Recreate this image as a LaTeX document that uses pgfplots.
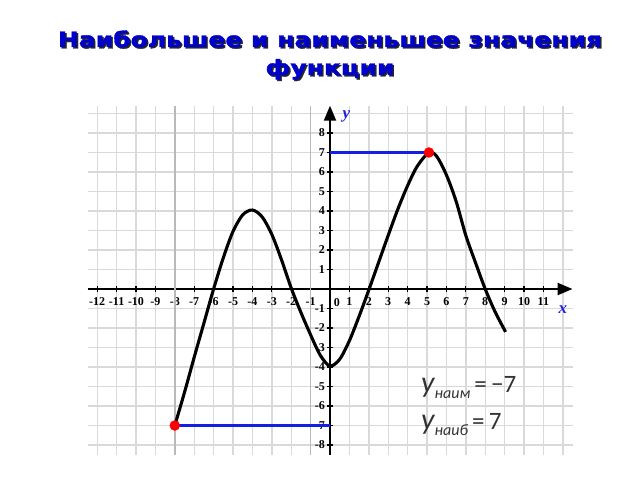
\documentclass[border=0pt]{standalone}
\usepackage{pgfplots}
\pgfplotsset{compat=1.18}
\usepackage{fontspec}
\setmainfont{Liberation Serif}
\newfontfamily\titlefont{DejaVu Sans Bold}[FakeStretch=1.19, FakeBold=1.5]
\newfontfamily\carlito{Carlito}
\usetikzlibrary{arrows.meta}
\definecolor{titleblue}{RGB}{0,0,205}
\definecolor{lineblue}{RGB}{20,30,230}
\definecolor{labblue}{RGB}{30,30,220}
\definecolor{dotred}{RGB}{250,0,0}
\newcommand\shadowtext[1]{\makebox[0pt][l]{\hspace{1.5pt}\raisebox{-1.5pt}{\color{black!85}#1}}\textcolor{titleblue}{#1}}
\begin{document}
\begin{tikzpicture}[x=1pt,y=1pt]
\useasboundingbox (0,0) rectangle (640,480);
% title with shadow
\node[anchor=base, font=\titlefont\fontsize{21}{25}\selectfont, inner sep=0pt] at (330,433) {\shadowtext{Наибольшее и наименьшее значения}};
\node[anchor=base, font=\titlefont\fontsize{21}{25}\selectfont, inner sep=0pt] at (330,405) {\shadowtext{функции}};
\begin{axis}[
  at={(330pt,191pt)}, anchor=origin,
  x=19.4pt, y=19.5pt,
  xmin=-12.5, xmax=12.5, ymin=-8.5, ymax=9.4,
  axis lines=middle,
  axis line style={black, line width=2.2pt, -{Triangle[length=15pt,width=12pt]}},
  clip=false,
  grid=major,
  major grid style={gray!30, line width=1.4pt},
  tick style={black, line width=1.2pt},
  major tick length=6pt,
  tick align=center,
  xtick={-12,-11,...,12},
  xticklabels={-12,-11,-10,-9,-8,-7,-6,-5,-4,-3,-2,-1,{},1,2,3,4,5,6,7,8,9,10,11,{}},
  ytick={-8,-7,...,9},
  yticklabels={-8,-7,-6,-5,-4,-3,-2,-1,{},1,2,3,4,5,6,7,8,{}},
  ticklabel style={font=\bfseries\fontsize{12}{13}\selectfont, inner sep=1pt},
  xticklabel style={yshift=-4pt},
  yticklabel style={xshift=-1pt},
]
\draw[gray!55, line width=1.4pt] (axis cs:-8,-8.5) -- (axis cs:-8,9.4);
\draw[gray!55, line width=1.4pt] (axis cs:-1,-8.5) -- (axis cs:-1,9.4);
\addplot[lineblue, line width=2.8pt] coordinates {(0,7) (5.1,7)};
\addplot[lineblue, line width=2.8pt] coordinates {(-8,-7) (0,-7)};
\addplot[black, line width=3.1pt, smooth] coordinates {
(-8,-7) (-7.5,-5.3) (-7,-3.5) (-6.5,-1.75) (-6,0) (-5.5,1.6) (-5,2.95)
(-4.5,3.8) (-4,4.05) (-3.5,3.7) (-3,2.8) (-2.5,1.5) (-2,0.05) (-1.5,-1.2)
(-1,-2.35) (-0.5,-3.4) (0,-3.95) (0.5,-3.6) (1,-2.65) (1.5,-1.4) (2,-0.05)
(2.5,1.35) (3,2.75) (3.5,4.1) (4,5.3) (4.5,6.3) (5.1,7) (5.5,6.8) (6,5.85)
(6.5,4.5) (7,2.75) (7.5,1.35) (8,0) (8.5,-1.15) (9.05,-2.2)};
\addplot[only marks, mark=*, mark size=5pt, color=dotred] coordinates {(-8,-7) (5.1,7)};
\node[font=\bfseries\fontsize{12}{13}\selectfont] at (axis cs:0.35,-0.72) {0};
\node[font=\bfseries\itshape\fontsize{17}{18}\selectfont, text=labblue] at (axis cs:0.85,8.85) {y};
\node[font=\bfseries\itshape\fontsize{17}{18}\selectfont, text=labblue] at (axis cs:12.0,-1.05) {x};
\end{axis}
\node[anchor=base west, font=\carlito\fontsize{25}{30}\selectfont, text=black!80, inner sep=0pt] at (421,88) {{\itshape\fontsize{30}{32}\selectfont y}\raisebox{-6pt}{\itshape\fontsize{16}{18}\selectfont наим}\,=\,−7};
\node[anchor=base west, font=\carlito\fontsize{25}{30}\selectfont, text=black!80, inner sep=0pt] at (421,51) {{\itshape\fontsize{30}{32}\selectfont y}\raisebox{-6pt}{\itshape\fontsize{16}{18}\selectfont наиб}\,=\,7};
\end{tikzpicture}
\end{document}
